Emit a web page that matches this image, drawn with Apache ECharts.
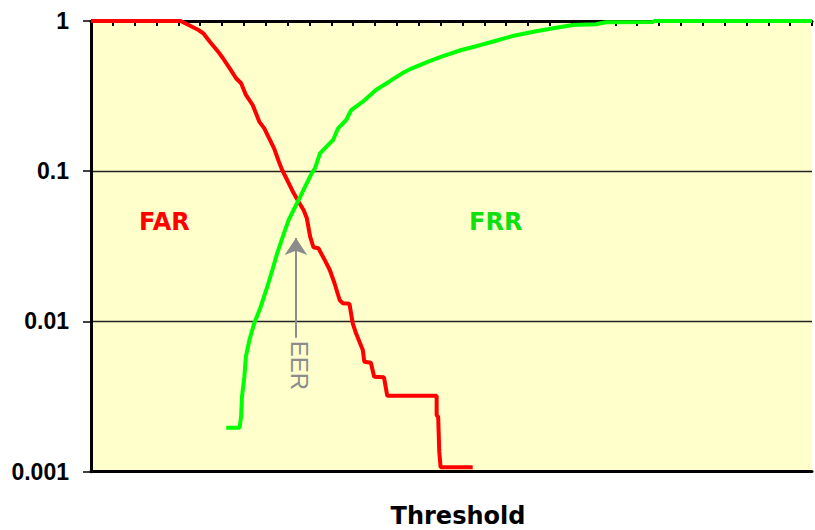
<!DOCTYPE html>
<html>
<head>
<meta charset="utf-8">
<title>FAR / FRR vs Threshold</title>
<script src="https://cdn.jsdelivr.net/npm/echarts@6/dist/echarts.min.js"></script>
<style>
  html, body { margin: 0; padding: 0; background: #ffffff; }
  #chart { width: 815px; height: 530px; }
</style>
</head>
<body>
<div id="chart"></div>
<script>
// Threshold positions (axis units) and error rates for each curve
const farThreshold = [0, 4.10, 4.47, 4.92, 5.14, 5.44, 5.82, 6.04, 6.35, 6.64, 6.87, 7.09, 7.40, 7.70, 7.93, 8.15, 8.38, 8.60, 8.75, 8.98, 9.28, 9.50, 9.73, 9.88, 10.03, 10.18, 10.41, 10.70, 10.93, 11.15, 11.38, 11.53, 11.83, 11.98, 12.13, 12.44, 12.51, 12.81, 12.96, 13.41, 13.56, 15.82, 15.82, 15.89, 15.94, 16.00, 17.47];
const farRate = [1, 1, 0.940, 0.871, 0.828, 0.728, 0.625, 0.565, 0.484, 0.416, 0.385, 0.322, 0.276, 0.214, 0.193, 0.166, 0.142, 0.1157, 0.1019, 0.0874, 0.0713, 0.0627, 0.0552, 0.0486, 0.0367, 0.0312, 0.0307, 0.0256, 0.0220, 0.0179, 0.0139, 0.0132, 0.0131, 0.00972, 0.00834, 0.00646, 0.00540, 0.00531, 0.00429, 0.00425, 0.0032, 0.0032, 0.00238, 0.00232, 0.00136, 0.00107, 0.00107];

const frrThreshold = [6.19, 6.80, 6.87, 6.91, 7.02, 7.09, 7.25, 7.47, 7.77, 8.07, 8.30, 8.52, 8.83, 9.05, 9.35, 9.58, 9.80, 10.10, 10.25, 10.48, 10.70, 11.08, 11.31, 11.68, 11.91, 12.44, 13.04, 13.64, 14.24, 14.69, 15.44, 16.04, 16.95, 17.55, 18.37, 19.35, 20.25, 21.15, 22.06, 23.11, 23.56, 25.74, 25.76, 33];
const frrRate = [0.00196, 0.00196, 0.00232, 0.00316, 0.00429, 0.00583, 0.00752, 0.00972, 0.01254, 0.01703, 0.0220, 0.0284, 0.0386, 0.0474, 0.0581, 0.0677, 0.0789, 0.0969, 0.1046, 0.1317, 0.1421, 0.1614, 0.1931, 0.2193, 0.2556, 0.2903, 0.3472, 0.3945, 0.4485, 0.4842, 0.5358, 0.5786, 0.6412, 0.6745, 0.7281, 0.7986, 0.8487, 0.8941, 0.9405, 0.9507, 0.980, 0.985, 1, 1];

// Equal error rate marker: threshold and the arrow's vertical span
const eerThreshold = 9.38;
const eerArrowFrom = 0.0078;
const eerArrowTo = 0.036;

const yTickLabels = ['0.001', '0.01', '0.1', '1'];

const zip = (xs, ys) => xs.map((x, i) => [x, ys[i]]);

const chart = echarts.init(document.getElementById('chart'), null, { renderer: 'svg' });

const gridLeft = 91, gridTop = 21, gridWidth = 731.6, gridHeight = 450.7;

chart.setOption({
  animation: false,
  backgroundColor: '#ffffff',
  grid: {
    left: gridLeft, top: gridTop, width: gridWidth, height: gridHeight,
    show: true, backgroundColor: '#FFFFCC', borderWidth: 0
  },
  xAxis: [
    {
      type: 'value', position: 'top', min: 0, max: 33, interval: 1,
      axisLine: { show: true, onZero: false, lineStyle: { color: '#000', width: 3 } },
      axisTick: { show: true, inside: true, length: 5, interval: 0, lineStyle: { color: '#000', width: 2 } },
      // threshold values are not labelled; empty labels keep every tick mark
      axisLabel: { show: true, interval: 0, formatter: () => '', showMinLabel: true, showMaxLabel: true },
      splitLine: { show: false },
      z: 3
    },
    {
      type: 'value', position: 'bottom', min: 0, max: 33, interval: 1,
      axisLine: { show: true, onZero: false, lineStyle: { color: '#000', width: 3 } },
      axisTick: { show: false },
      axisLabel: { show: false },
      splitLine: { show: false }
    }
  ],
  yAxis: {
    type: 'log', logBase: 10, min: 0.001, max: 1,
    axisLine: { show: true, onZero: false, lineStyle: { color: '#000', width: 3 } },
    axisTick: { show: true, length: 8, lineStyle: { color: '#000', width: 1.5 } },
    minorTick: { show: false },
    axisLabel: {
      margin: 22,
      fontFamily: 'Liberation Sans',
      fontWeight: 'bold',
      fontSize: 23,
      color: '#000',
      formatter: v => yTickLabels[Math.round(Math.log10(v)) + 3]
    },
    splitLine: { show: true, lineStyle: { color: '#222', width: 1.3 } }
  },
  series: [
    {
      name: 'FAR', type: 'line', xAxisIndex: 0, showSymbol: false, symbol: 'none',
      data: zip(farThreshold, farRate),
      lineStyle: { color: '#FF0000', width: 4 },
      z: 5
    },
    {
      name: 'FRR', type: 'line', xAxisIndex: 0, showSymbol: false, symbol: 'none',
      data: zip(frrThreshold, frrRate),
      lineStyle: { color: '#00FF00', width: 4 },
      z: 6,
      markLine: {
        silent: true,
        symbol: ['none', 'arrow'],
        symbolSize: 17,
        label: { show: false },
        lineStyle: { color: '#8C8C8C', width: 2, type: 'solid' },
        data: [[
          { coord: [eerThreshold, eerArrowFrom] },
          { coord: [eerThreshold, eerArrowTo] }
        ]]
      }
    }
  ],
  graphic: [
    {
      type: 'text', left: 139, top: 210,
      style: { text: 'FAR', fill: '#FF0000', font: 'bold 24px "DejaVu Sans"' }
    },
    {
      type: 'text', left: 469, top: 210,
      style: { text: 'FRR', fill: '#10E010', font: 'bold 24px "DejaVu Sans"' }
    },
    {
      type: 'text', x: 299.5, y: 365.5, rotation: -Math.PI / 2,
      style: {
        text: 'EER', fill: '#8C8C8C', font: '24px "Liberation Sans"',
        align: 'center', verticalAlign: 'middle'
      }
    },
    {
      type: 'text', x: 458, y: 516,
      style: {
        text: 'Threshold', fill: '#000', font: 'bold 24px "DejaVu Sans"',
        align: 'center', verticalAlign: 'middle'
      }
    }
  ]
});
</script>
</body>
</html>
